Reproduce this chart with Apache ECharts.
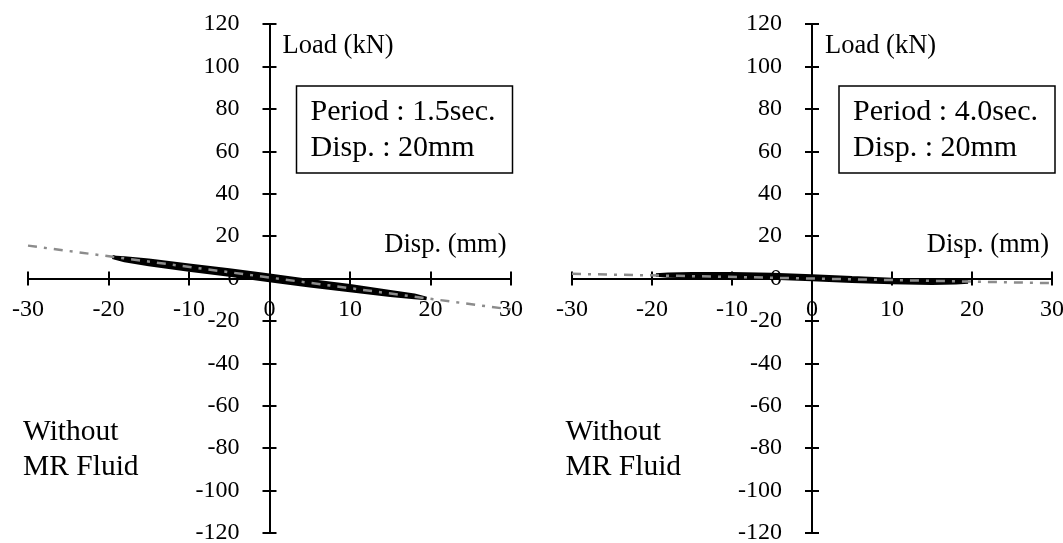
<!DOCTYPE html>
<html>
<head>
<meta charset="utf-8">
<script src="https://cdn.jsdelivr.net/npm/echarts@6/dist/echarts.min.js"></script>
<style>
html,body{margin:0;padding:0;background:#fff;}
#c{width:1063px;height:543px;}
</style>
</head>
<body>
<div id="c"></div>
<script>
// ---- data ----
const xTickMin = -30, xTickMax = 30, xTickStep = 10;
const yTickMin = -120, yTickMax = 120, yTickStep = 20;

// hysteresis path: upper branch (->), lower branch (<-), second pass (->)
const loopDisp = [-19.5,-18,-15,-10,-5,0,5,10,15,18,19.5,
                  18,15,10,5,0,-5,-10,-15,-18,-19.5,
                  -18,-15,-10,-5,0,5,10,15,18,19.5];
const leftLoopLoad = [10.0,9.7,8.6,6.3,4.0,1.5,-1.0,-3.4,-6.2,-7.9,-9.4,
                      -9.0,-7.9,-5.7,-3.4,-0.9,1.6,4.0,6.6,8.5,10.0,
                      9.1,7.6,5.2,2.8,0.3,-2.2,-4.5,-7.0,-8.4,-9.4];
const rightLoopLoad = [1.7,2.0,2.2,2.2,1.9,1.2,0.3,-0.5,-1.0,-1.3,-1.6,
                       -2.0,-2.2,-1.9,-1.3,-0.5,0.2,0.6,0.9,1.2,1.7,
                       1.6,1.5,1.4,1.1,0.4,-0.5,-1.2,-1.6,-1.6,-1.6];

const fitDisp = [-30, 30];
const leftFitLoad = [15.5, -14.6];
const rightFitLoad = [2.2, -2.2];

const yName = 'Load (kN)';
const xName = 'Disp. (mm)';
const leftBoxLines = ['Period : 1.5sec.', 'Disp. : 20mm'];
const rightBoxLines = ['Period : 4.0sec.', 'Disp. : 20mm'];
const noteLines = ['Without', 'MR Fluid'];

// ---- chart ----
const FONT = '"Liberation Serif","Times New Roman",serif';
const pairs = (xs, ys) => xs.map((x, i) => [x, ys[i]]);
const GRID_H = 509;
const grids = [
  { left: 28, top: 24, width: 483, height: GRID_H, outerBoundsMode: 'none', containLabel: false },
  { left: 572, top: 24, width: 480, height: GRID_H, outerBoundsMode: 'none', containLabel: false }
];

function xAxisDef(g, inner) {
  return {
    type: 'value', gridIndex: g, min: xTickMin, max: xTickMax, interval: xTickStep,
    position: 'bottom', offset: -GRID_H / 2,
    axisLine: { show: true, onZero: false, lineStyle: { color: '#000', width: 2 } },
    axisTick: { show: true, inside: inner, length: 7, lineStyle: { color: '#000', width: 2 } },
    axisLabel: { show: !inner, color: '#000', fontFamily: FONT, fontSize: 24, margin: 19 },
    splitLine: { show: false }
  };
}
function yAxisDef(g, inner) {
  return {
    type: 'value', gridIndex: g, min: yTickMin, max: yTickMax, interval: yTickStep,
    position: 'left', offset: -grids[g].width / 2,
    axisLine: { show: true, onZero: false, lineStyle: { color: '#000', width: 2 } },
    axisTick: { show: true, inside: inner, length: 7, lineStyle: { color: '#000', width: 2 } },
    axisLabel: { show: !inner, color: '#000', fontFamily: FONT, fontSize: 24, margin: 30 },
    splitLine: { show: false }
  };
}

function txt(x, y, s, size, align) {
  return {
    type: 'text', x: x, y: y, z: 100,
    style: { text: s, font: size + 'px ' + FONT, fill: '#000',
      textAlign: align || 'left', align: align || 'left',
      textVerticalAlign: 'middle', verticalAlign: 'middle' }
  };
}

const panels = [
  { ax: 269.5, box: leftBoxLines },
  { ax: 812, box: rightBoxLines }
];
const graphics = [];
panels.forEach(p => {
  const o = p.ax;
  graphics.push(txt(o + 13, 46, yName, 26.5));
  graphics.push(txt(o + 237, 245, xName, 26.5, 'right'));
  graphics.push({ type: 'rect', z: 99, shape: { x: o + 27, y: 86, width: 216, height: 87 },
    style: { fill: '#fff', stroke: '#000', lineWidth: 1.5 } });
  graphics.push(txt(o + 41, 112, p.box[0], 30));
  graphics.push(txt(o + 41, 148.5, p.box[1], 30));
  graphics.push(txt(o - 246.5, 432, noteLines[0], 29.5));
  graphics.push(txt(o - 246.5, 467.5, noteLines[1], 29.5));
});

function loopSeries(xi, yi, data) {
  return { type: 'line', xAxisIndex: xi, yAxisIndex: yi, data: data, symbol: 'none',
    smooth: false, lineStyle: { color: '#000', width: 3.5 }, z: 3, silent: true };
}
function fitSeries(xi, yi, data) {
  return { type: 'line', xAxisIndex: xi, yAxisIndex: yi, data: data, symbol: 'none',
    lineStyle: { color: '#8c8c8c', width: 2.5, type: [9, 7, 3, 7] }, z: 4, silent: true };
}

const option = {
  animation: false,
  backgroundColor: '#fff',
  grid: grids,
  xAxis: [xAxisDef(0, false), xAxisDef(0, true), xAxisDef(1, false), xAxisDef(1, true)],
  yAxis: [yAxisDef(0, false), yAxisDef(0, true), yAxisDef(1, false), yAxisDef(1, true)],
  series: [
    loopSeries(0, 0, pairs(loopDisp, leftLoopLoad)),
    fitSeries(0, 0, pairs(fitDisp, leftFitLoad)),
    loopSeries(2, 2, pairs(loopDisp, rightLoopLoad)),
    fitSeries(2, 2, pairs(fitDisp, rightFitLoad))
  ],
  graphic: graphics
};

const chart = echarts.init(document.getElementById('c'), null, { renderer: 'canvas' });
chart.setOption(option);
</script>
</body>
</html>
